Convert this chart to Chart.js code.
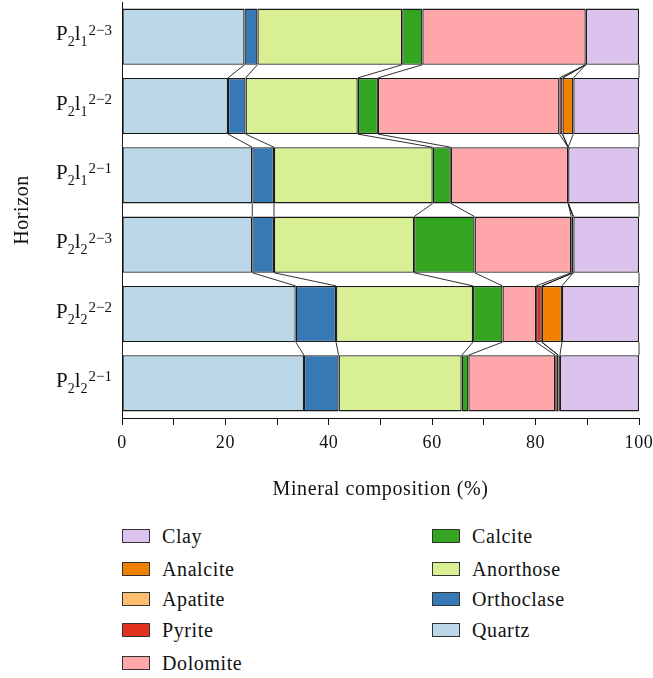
<!DOCTYPE html>
<html>
<head>
<meta charset="utf-8">
<title>Mineral composition by horizon</title>
<script src="https://cdn.jsdelivr.net/npm/chart.js@4.4.1/dist/chart.umd.min.js"></script>
<style>
    body { margin: 0; background: #fff; font-family: "Liberation Serif", serif; }
    #wrap { position: absolute; left: 0; top: 0; width: 653px; height: 510px; }
    #legend { position: absolute; left: 0; top: 0; }
    .item { position: absolute; height: 22px; line-height: 22px; font-size: 20px; letter-spacing: 0.6px; color: #111; white-space: nowrap; }
    .box { position: absolute; left: 0; top: 4px; width: 26px; height: 12px; border: 1px solid #333; }
    .txt { position: absolute; left: 40px; top: 0; }
</style>
</head>
<body>
<div id="wrap"><canvas id="chart" width="653" height="510"></canvas></div>
<div id="legend"></div>

<script>
    // horizons, top to bottom
    var horizons = ["P₂l₁²⁻³", "P₂l₁²⁻²", "P₂l₁²⁻¹", "P₂l₂²⁻³", "P₂l₂²⁻²", "P₂l₂²⁻¹"];

    // mineral content (%) per horizon, stacked left to right
    var quartz     = [23.7, 20.5, 25.2, 25.2, 33.6, 35.2];
    var orthoclase = [2.5, 3.4, 4.2, 4.2, 7.8, 6.7];
    var anorthose  = [28.0, 21.7, 30.7, 27.1, 26.5, 23.8];
    var calcite    = [3.9, 3.9, 3.5, 11.7, 5.7, 1.3];
    var dolomite   = [31.6, 35.1, 22.7, 18.7, 6.5, 16.8];
    var pyrite     = [0, 0.6, 0, 0.4, 1.1, 0.6];
    var apatite    = [0, 0, 0, 0, 0, 0];
    var analcite   = [0, 2.1, 0, 0, 3.9, 0.3];
    var clay       = [10.3, 12.7, 13.7, 12.7, 14.9, 15.3];

    var xTicks = [0, 20, 40, 60, 80, 100];

    var series = [
        { label: "Quartz", data: quartz, color: "#bbd7e8" },
        { label: "Orthoclase", data: orthoclase, color: "#3679b5" },
        { label: "Anorthose", data: anorthose, color: "#d9ef93" },
        { label: "Calcite", data: calcite, color: "#33a521" },
        { label: "Dolomite", data: dolomite, color: "#ffa6aa" },
        { label: "Pyrite", data: pyrite, color: "#e0301e" },
        { label: "Apatite", data: apatite, color: "#fdbf6f" },
        { label: "Analcite", data: analcite, color: "#f28000" },
        { label: "Clay", data: clay, color: "#dcc3ee" }
    ];

    var serif = "'Liberation Serif', serif";
    var ink = "#111";

    // a little tracking so the Times-like face is as wide as the original
    var spacing = {
        id: "spacing",
        beforeLayout: function (chart) { chart.ctx.letterSpacing = "0.6px"; },
        beforeDraw: function (chart) { chart.ctx.letterSpacing = "0.6px"; }
    };

    // lines joining the segment edges of neighbouring bars
    var connectors = {
        id: "connectors",
        afterDatasetsDraw: function (chart) {
            var ctx = chart.ctx;
            var n = chart.data.labels.length;
            var edges = [];
            for (var i = 0; i < n; i++) {
                var row = [];
                var first = chart.getDatasetMeta(0).data[i];
                row.push(first.base);
                var top = first.y - first.height / 2, bottom = first.y + first.height / 2;
                for (var d = 0; d < chart.data.datasets.length; d++) {
                    row.push(chart.getDatasetMeta(d).data[i].x);
                }
                edges.push({ xs: row, top: top, bottom: bottom });
            }
            ctx.save();
            ctx.strokeStyle = "#1a1a1a";
            ctx.lineWidth = 0.9;
            for (var i = 0; i < n - 1; i++) {
                var a = edges[i], b = edges[i + 1];
                for (var k = 0; k < a.xs.length; k++) {
                    ctx.beginPath();
                    ctx.moveTo(a.xs[k], a.bottom);
                    ctx.lineTo(b.xs[k], b.top);
                    ctx.stroke();
                }
            }
            ctx.restore();
        }
    };

    // horizon labels with real sub/superscripts
    var subs = { "₀": "0", "₁": "1", "₂": "2", "₃": "3" };
    var sups = { "⁰": "0", "¹": "1", "²": "2", "³": "3", "⁻": "\u2212" };

    var horizonLabels = {
        id: "horizonLabels",
        afterDraw: function (chart) {
            var ctx = chart.ctx;
            var yScale = chart.scales.y;
            ctx.save();
            ctx.letterSpacing = "0px";
            ctx.fillStyle = ink;
            ctx.textBaseline = "alphabetic";
            chart.data.labels.forEach(function (lab, i) {
                var yc = yScale.getPixelForValue(i);
                var runs = [];
                for (var c of lab) {
                    var kind = subs[c] ? "sub" : (sups[c] ? "sup" : "n");
                    var ch = subs[c] || sups[c] || c;
                    var last = runs[runs.length - 1];
                    if (last && last.kind === kind) last.t += ch;
                    else runs.push({ kind: kind, t: ch });
                }
                var style = {
                    n:   { size: 21, dy: 3.5 },
                    sub: { size: 14, dy: 9.5 },
                    sup: { size: 15, dy: -2 }
                };
                var total = 0;
                runs.forEach(function (r) {
                    ctx.font = style[r.kind].size + "px " + serif;
                    r.w = ctx.measureText(r.t).width + (r.kind === "sup" ? 1 : 0);
                    total += r.w;
                });
                var x = 112 - total;
                runs.forEach(function (r) {
                    ctx.font = style[r.kind].size + "px " + serif;
                    ctx.fillText(r.t, x + (r.kind === "sup" ? 1 : 0), yc + style[r.kind].dy);
                    x += r.w;
                });
            });
            ctx.restore();
        }
    };

    var wykres = new Chart(document.getElementById("chart").getContext("2d"), {
        type: "bar",
        data: {
            labels: horizons,
            datasets: series.map(function (s) {
                return {
                    label: s.label,
                    data: s.data,
                    backgroundColor: s.color,
                    borderColor: "#1a1a1a",
                    borderWidth: 1.3,
                    borderSkipped: false,
                    barPercentage: 0.81,
                    categoryPercentage: 1
                };
            })
        },
        options: {
            indexAxis: "y",
            responsive: false,
            animation: false,
            layout: { padding: { top: 2, right: 14, left: 0, bottom: 0 } },
            plugins: {
                legend: { display: false },
                tooltip: { enabled: false }
            },
            scales: {
                x: {
                    stacked: true,
                    min: 0,
                    max: 100,
                    afterBuildTicks: function (scale) {
                        var t = [];
                        for (var v = 0; v <= 100; v += 10) t.push({ value: v });
                        scale.ticks = t;
                    },
                    ticks: {
                        autoSkip: false,
                        maxRotation: 0,
                        padding: 7,
                        color: ink,
                        font: { family: serif, size: 18 },
                        callback: function (v) { return xTicks.indexOf(v) >= 0 ? v : ""; }
                    },
                    grid: { drawOnChartArea: false, tickLength: 7, color: ink },
                    border: { color: ink, width: 1 },
                    title: {
                        display: true,
                        text: "Mineral composition (%)",
                        color: ink,
                        font: { family: serif, size: 20 },
                        padding: { top: 0, bottom: 8 }
                    },
                    afterFit: function (scale) {
                        scale.height = 92;
                        scale.paddingLeft = 0;
                        scale.paddingRight = 0;
                    }
                },
                y: {
                    stacked: true,
                    ticks: { display: false },
                    grid: { display: false, drawTicks: false },
                    border: { color: ink, width: 1 },
                    title: {
                        display: true,
                        text: "Horizon",
                        color: ink,
                        font: { family: serif, size: 20 },
                        padding: { top: 11, bottom: 0 }
                    },
                    afterFit: function (scale) { scale.width = 122; }
                }
            }
        },
        plugins: [spacing, connectors, horizonLabels]
    });

    // legend in two columns, top-down, reversed stack order
    var legendRows = [536, 569, 599, 630, 663];
    var legendCols = [122, 432];
    var legend = document.getElementById("legend");
    series.slice().reverse().forEach(function (s, i) {
        var col = Math.floor(i / legendRows.length), row = i % legendRows.length;
        var item = document.createElement("div");
        item.className = "item";
        item.style.left = legendCols[col] + "px";
        item.style.top = (legendRows[row] - 11) + "px";
        item.innerHTML = '<span class="box" style="background:' + s.color + '"></span><span class="txt">' + s.label + '</span>';
        legend.appendChild(item);
    });
</script>
</body>
</html>
